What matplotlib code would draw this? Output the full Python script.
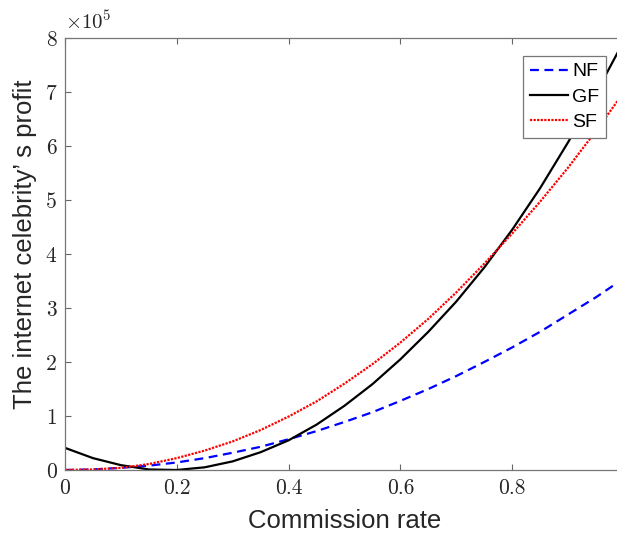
import matplotlib
matplotlib.use('Agg')
import matplotlib.pyplot as plt
from matplotlib.ticker import FuncFormatter

plt.rcParams['mathtext.fontset'] = 'cm'
plt.rcParams['axes.formatter.use_mathtext'] = True

# commission rate and the three profit curves
rate = [0.00, 0.05, 0.10, 0.15, 0.20, 0.25, 0.30, 0.35, 0.40, 0.45, 0.50,
        0.55, 0.60, 0.65, 0.70, 0.75, 0.80, 0.85, 0.90, 0.95, 1.00]
nf_profit = [0.00, 0.01, 0.04, 0.08, 0.14, 0.22, 0.32, 0.43, 0.57, 0.72, 0.89,
             1.07, 1.28, 1.50, 1.74, 2.00, 2.27, 2.56, 2.88, 3.20, 3.55]
gf_profit = [0.41, 0.22, 0.09, 0.01, 0.00, 0.05, 0.16, 0.33, 0.55, 0.84, 1.19,
             1.59, 2.05, 2.56, 3.12, 3.75, 4.45, 5.22, 6.07, 6.98, 7.95]
sf_profit = [0.00, 0.01, 0.04, 0.11, 0.22, 0.36, 0.53, 0.74, 0.99, 1.27, 1.60,
             1.96, 2.36, 2.80, 3.29, 3.82, 4.38, 4.97, 5.60, 6.28, 7.00]
scale = 1e5

series = [
    ('NF', nf_profit, dict(color='#0000ff', linestyle=(0, (4, 2.5)), linewidth=1.6)),
    ('GF', gf_profit, dict(color='black', linestyle='-', linewidth=1.6)),
    ('SF', sf_profit, dict(color='#ff0000', linestyle=(0, (1, 0.6)), linewidth=1.6)),
]

fig = plt.figure(figsize=(6.17, 5.36), dpi=100)
ax = fig.add_axes([65 / 617, 66 / 536, 559 / 617, 432 / 536])

for name, vals, style in series:
    ax.plot(rate, [v * scale for v in vals], label=name, **style)

ax.set_xlim(0, 1)
ax.set_ylim(0, 8 * scale)
ax.set_xticks([0, 0.2, 0.4, 0.6, 0.8])
ax.set_yticks([i * scale for i in range(9)])
ax.xaxis.set_major_formatter(FuncFormatter(lambda v, p: f'{v:g}'))
ax.yaxis.set_major_formatter(FuncFormatter(lambda v, p: f'{v / scale:g}'))

ax.tick_params(direction='in', length=4.5, width=0.8, color='#666666',
               top=True, right=True, labelsize=15.5, labelfontfamily='cmr10',
               labelcolor='#262626', pad=6)
for s in ax.spines.values():
    s.set_color('#777777')
    s.set_linewidth(0.9)

ax.text(0.0, 1.012, r'$\times10^{5}$', transform=ax.transAxes,
        fontsize=15, color='#262626', ha='left', va='bottom')

ax.set_xlabel('Commission rate', fontsize=18.5, family='Liberation Sans',
              color='#262626', labelpad=8)
ax.set_ylabel('The internet celebrity’ s profit', fontsize=18.5,
              family='Liberation Sans', color='#262626')
ax.yaxis.set_label_coords(-0.050, 0.523)

leg = ax.legend(loc='upper right', bbox_to_anchor=(606 / 617, 1 - 56 / 536),
                bbox_transform=fig.transFigure, borderaxespad=0,
                fancybox=False, framealpha=1, edgecolor='#777777',
                prop={'family': 'Liberation Sans', 'size': 14},
                handlelength=1.95, handletextpad=0.2, labelspacing=0.4,
                borderpad=0.35)
leg.get_frame().set_linewidth(0.9)

fig.savefig('out.png', dpi=100)
